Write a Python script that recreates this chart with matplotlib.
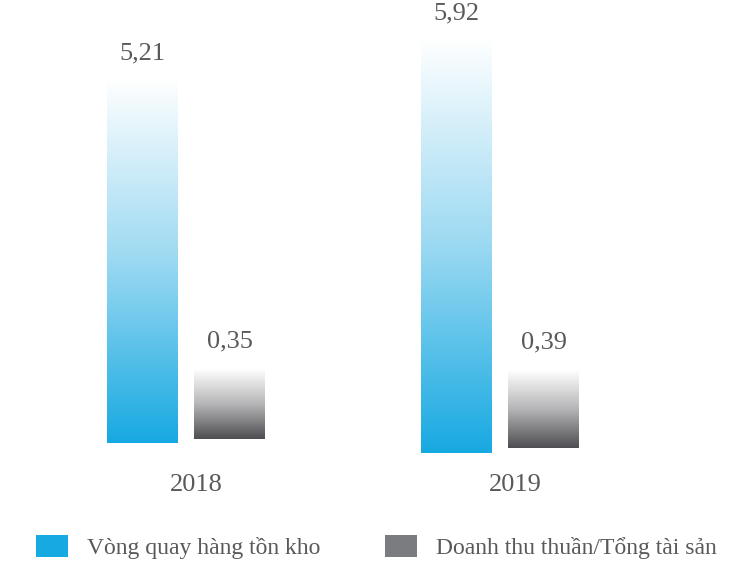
import numpy as np
import matplotlib.pyplot as plt
from matplotlib.colors import LinearSegmentedColormap
from matplotlib.patches import Patch

plt.rcParams["font.family"] = ["Liberation Serif", "DejaVu Serif"]

years = ["2018", "2019"]
inventory_turnover = [5.21, 5.92]
revenue_to_assets = [0.35, 0.39]
labels_inv = ["5,21", "5,92"]
labels_rev = ["0,35", "0,39"]
series_names = ["Vòng quay hàng tồn kho", "Doanh thu thuần/Tổng tài sản"]

W, H = 754, 563
TEXT = "#595959"
BLUE = "#17a9e1"
GRAY = "#7b7c80"

blue_cmap = LinearSegmentedColormap.from_list("b", ["#ffffff", "#9bd9f2", BLUE])
gray_cmap = LinearSegmentedColormap.from_list("g", ["#ffffff", "#b5b5b7", "#4e4e52"])

fig = plt.figure(figsize=(W / 100, H / 100), dpi=100)


def px_axes(x0, base, w, h):
    ax = fig.add_axes([x0 / W, (H - base) / H, w / W, h / H])
    ax.set_axis_off()
    return ax


def gradient_bar(ax, value, cmap, label, gap):
    bar = ax.bar([0], [value], width=1.0, color="none", edgecolor="none")[0]
    grad = np.linspace(0, 1, 256).reshape(-1, 1)  # light on top, dark at the base
    img = ax.imshow(grad, cmap=cmap, aspect="auto",
                    extent=(-0.5, 0.5, 0, value), vmin=0, vmax=1)
    img.set_clip_path(bar)
    ax.annotate(label, (0, value), xytext=(0, gap), textcoords="offset points",
                ha="center", va="bottom", fontsize=19, color=TEXT)


# blue bars ~70 px per unit, gray bars ~200 px per unit (not on the same scale)
blue_scale, gray_scale = 70.0, 200.0
group_x = [107, 421]
baselines_blue = [443, 453]
baselines_gray = [439, 448]

for i, yr in enumerate(years):
    x0 = group_x[i]
    axb = px_axes(x0, baselines_blue[i], 71, 440)
    axb.set_xlim(-0.5, 0.5)
    axb.set_ylim(0, 440 / blue_scale)
    gradient_bar(axb, inventory_turnover[i], blue_cmap, labels_inv[i], 10)

    axg = px_axes(x0 + 87, baselines_gray[i], 71, 440)
    axg.set_xlim(-0.5, 0.5)
    axg.set_ylim(0, 440 / gray_scale)
    gradient_bar(axg, revenue_to_assets[i], gray_cmap, labels_rev[i], 12)

    fig.text((x0 + 89 + 5 * i) / W, 1 - 485 / H, yr, ha="center", va="center",
             fontsize=19, color=TEXT)

handles = [Patch(facecolor=BLUE), Patch(facecolor=GRAY)]
fig.legend(handles, series_names, loc="center left",
           bbox_to_anchor=(36 / W, 1 - 547 / H),
           ncol=2, frameon=False, fontsize=17, labelcolor=TEXT,
           borderpad=0, borderaxespad=0,
           handlelength=1.35, handleheight=1.1, handletextpad=0.8,
           columnspacing=2.75)

fig.savefig("out.png", dpi=100)
